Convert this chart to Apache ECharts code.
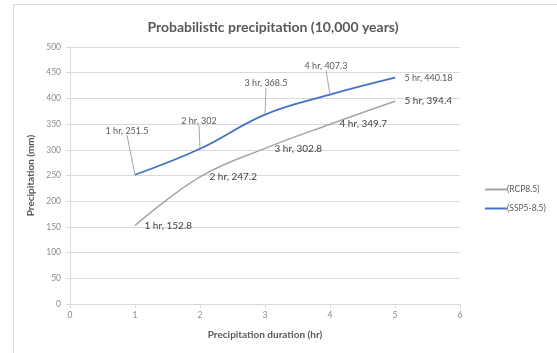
<!DOCTYPE html>
<html>
<head>
<meta charset="utf-8">
<script src="https://cdn.jsdelivr.net/npm/echarts@6/dist/echarts.min.js"></script>
<style>
  html, body { margin: 0; padding: 0; background: #ffffff; }
  #chart { width: 557px; height: 353px; }
</style>
</head>
<body>
<div id="chart"></div>
<script>
// Rainfall depth for a 10,000-year return period, by storm duration
const durations = [1, 2, 3, 4, 5];
const rcpValues = [152.8, 247.2, 302.8, 349.7, 394.4];
const sspValues = [251.5, 302, 368.5, 407.3, 440.18];
const seriesNames = ['(RCP8.5)', '(SSP5-8.5)'];
const xTicks = { min: 0, max: 6, interval: 1 };
const yTicks = { min: 0, max: 500, interval: 50 };

// Callout offsets for the SSP labels (pixels, relative to the default "top" spot)
const sspLabelShift = [[-8, -34], [-1, -18], [1, -21], [-4, -19]];

const FONT = 'Lato, "Liberation Sans", sans-serif';
const TXT = '#595959';
const GRID = '#d9d9d9';

const toPairs = vals => durations.map((d, i) => [d, vals[i]]);
const labelText = p => p.value[0] + ' hr, ' + p.value[1];

const chart = echarts.init(document.getElementById('chart'), null, { renderer: 'canvas' });

// the last SSP point keeps its label beside the line end, without a callout line
const sspData = toPairs(sspValues).map((v, i) => i === durations.length - 1
  ? { value: v, label: { position: 'right', distance: 9 }, labelLine: { show: false } }
  : v);

chart.setOption({
  backgroundColor: '#ffffff',
  animation: false,
  graphic: [{
    type: 'rect',
    shape: { x: 13.5, y: 4.5, width: 600, height: 400 },
    style: { fill: 'none', stroke: GRID, lineWidth: 1 },
    silent: true
  }],
  title: {
    text: 'Probabilistic precipitation (10,000 years)',
    left: 268, top: 15, textAlign: 'center',
    textStyle: { fontFamily: FONT, fontSize: 14, fontWeight: 'bold', color: TXT }
  },
  grid: { left: 70, right: 97, top: 47, bottom: 49 },
  legend: {
    orient: 'vertical',
    left: 480, top: 180,
    itemGap: 10,
    itemWidth: 22, itemHeight: 2,
    icon: 'rect',
    textStyle: { fontFamily: FONT, fontSize: 8.5, color: TXT, padding: [0, 0, 0, -5] },
    data: seriesNames
  },
  xAxis: {
    type: 'value',
    min: xTicks.min, max: xTicks.max, interval: xTicks.interval,
    name: 'Precipitation duration (hr)',
    nameLocation: 'middle', nameGap: 26,
    nameTextStyle: { fontFamily: FONT, fontSize: 10, fontWeight: 'bold', color: TXT },
    axisLine: { show: true, lineStyle: { color: GRID } },
    axisTick: { show: true, length: 4, lineStyle: { color: GRID } },
    axisLabel: { fontFamily: FONT, fontSize: 8.5, color: '#8c8c8c', margin: 7 },
    splitLine: { show: false }
  },
  yAxis: {
    type: 'value',
    min: yTicks.min, max: yTicks.max, interval: yTicks.interval,
    name: 'Precipitation (mm)',
    nameLocation: 'middle', nameGap: 33, nameRotate: 90,
    nameTextStyle: { fontFamily: FONT, fontSize: 10, fontWeight: 'bold', color: TXT },
    axisLine: { show: true, lineStyle: { color: GRID } },
    axisTick: { show: true, length: 4, lineStyle: { color: GRID } },
    axisLabel: { fontFamily: FONT, fontSize: 8.5, color: '#8c8c8c', margin: 9 },
    splitLine: { show: true, lineStyle: { color: GRID, width: 1 } }
  },
  series: [
    {
      name: seriesNames[0],
      type: 'line',
      data: toPairs(rcpValues),
      smooth: 0.4,
      symbol: 'circle', symbolSize: 1, showSymbol: true,
      color: '#a5a5a5',
      itemStyle: { color: '#a5a5a5' },
      lineStyle: { color: '#a5a5a5', width: 1.5 },
      label: {
        show: true, position: 'right', distance: 9,
        formatter: labelText,
        fontFamily: FONT, fontSize: 10, color: '#404040'
      },
      emphasis: { disabled: true }
    },
    {
      name: seriesNames[1],
      type: 'line',
      data: sspData,
      smooth: 0.4,
      symbol: 'circle', symbolSize: 1, showSymbol: true,
      color: '#4472c4',
      itemStyle: { color: '#4472c4' },
      lineStyle: { color: '#4472c4', width: 1.8 },
      label: {
        show: true, position: 'top', distance: 5,
        formatter: labelText,
        fontFamily: FONT, fontSize: 9, color: TXT
      },
      labelLine: { show: true, lineStyle: { color: '#a6a6a6', width: 1 } },
      labelLayout: p => {
        const s = sspLabelShift[p.dataIndex];
        return s ? { dx: s[0], dy: s[1] } : {};
      },
      emphasis: { disabled: true }
    }
  ]
});
</script>
</body>
</html>
